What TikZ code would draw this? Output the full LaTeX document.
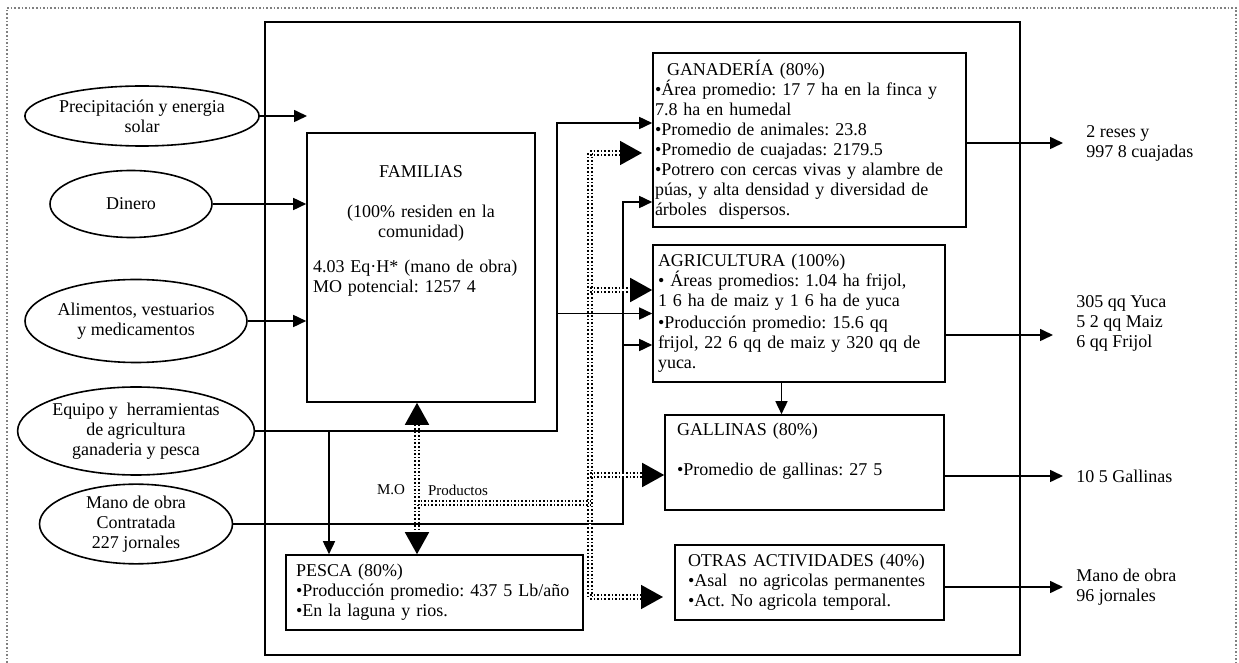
\documentclass[tikz,border=0pt]{standalone}
\usepackage{fontspec}
\setmainfont{Liberation Serif}
\frenchspacing
\usetikzlibrary{shapes.geometric}
\usetikzlibrary{arrows.meta}

\begin{document}
\begin{tikzpicture}[x=0.5pt,y=-0.5pt,
    font=\fontsize{9}{10}\selectfont,
    src/.style={draw,thick,ellipse,inner sep=0pt,align=center},
    box/.style={draw,thick,rectangle,align=left,inner ysep=1pt},
    tip/.style={thick,-{Triangle[length=6.5pt,width=6pt]}},
    prod/.style={densely dotted,double,double distance=1.1pt,line width=0.8pt},
    bigtip/.style={-{Triangle[length=11pt,width=12pt]}},
    bigtips/.style={{Triangle[length=11pt,width=12pt]}-{Triangle[length=11pt,width=12pt]}}]

    \useasboundingbox (0,0) rectangle (1239,663);
    \draw[gray,densely dotted,thick] (7,663) -- (7,8) -- (1236,8) -- (1236,663);
    \draw[thick] (265,22) rectangle (1020,655);

    %Entradas
    \node[src,minimum width=102.5pt,minimum height=30pt] (prec) at (142,116) {Precipitación y energia\\solar};
    \node[src,minimum width=81pt,minimum height=33.5pt] (din) at (131,204) {Dinero};
    \node[src,minimum width=96pt,minimum height=41.5pt] (ali) at (136,321) {Alimentos, vestuarios\\y medicamentos};
    \node[src,minimum width=107.5pt,minimum height=44pt] (equ) at (136,431) {Equipo y \ herramientas\\de agricultura\\ganaderia y pesca};
    \node[src,minimum width=96.5pt,minimum height=39.5pt] (mano) at (136,524) {Mano de obra\\Contratada\\227 jornales};

    %Sistema
    \node[box,inner xsep=3pt,text width=108pt,minimum width=114pt,minimum height=134.5pt] (fam) at (421,267.5)
        {\hspace*{\fill}FAMILIAS\hspace*{\fill}\mbox{}\\[10pt]
         \hspace*{\fill}(100\% residen en la\hspace*{\fill}\mbox{}\\
         \hspace*{\fill}comunidad)\hspace*{\fill}\mbox{}\\[7.5pt]
         4.03 Eq·H* (mano de obra)\\
         MO potencial: 1257 4\\[28pt]\mbox{}};
    \node[box,inner xsep=1pt,text width=154.5pt,minimum width=156.5pt,minimum height=87pt] (gan) at (809.5,140)
        {\hspace*{6pt}GANADERÍA (80\%)\\
         •Área promedio: 17 7 ha en la finca y\\
         7.8 ha en humedal\\
         •Promedio de animales: 23.8\\
         •Promedio de cuajadas: 2179.5\\
         •Potrero con cercas vivas y alambre de\\
         púas, y alta densidad y diversidad de\\
         árboles \ dispersos.};
    \node[box,inner xsep=2.5pt,text width=141pt,minimum width=146pt,minimum height=68.5pt] (agr) at (799,313.5)
        {AGRICULTURA (100\%)\\
         • Áreas promedios: 1.04 ha frijol,\\
         1 6 ha de maiz y 1 6 ha de yuca\\[1pt]
         •Producción promedio: 15.6 qq\\
         frijol, 22 6 qq de maiz y 320 qq de\\
         yuca.};
    \node[box,inner xsep=6pt,text width=127.5pt,minimum width=139.5pt,minimum height=47.5pt] (gal) at (804.5,462.5)
        {GALLINAS (80\%)\\[10pt]
         •Promedio de gallinas: 27 5\\[3pt]\mbox{}};
    \node[box,inner xsep=6.5pt,text width=121.5pt,minimum width=134.5pt,minimum height=37.5pt] (otr) at (809.5,582.5)
        {OTRAS ACTIVIDADES (40\%)\\
         •Asal \ no agricolas permanentes\\
         •Act. No agricola temporal.};
    \node[box,inner xsep=5pt,text width=138.5pt,minimum width=148.5pt,minimum height=37.5pt] (pes) at (434.5,592.5)
        {PESCA (80\%)\\
         •Producción promedio: 437 5 Lb/año\\
         •En la laguna y rios.};

    %Salidas
    \node[anchor=west,align=left,inner sep=0pt] (ores) at (1086,143) {2 reses y\\997 8 cuajadas};
    \node[anchor=west,align=left,inner sep=0pt] (oagr) at (1076,323) {305 qq Yuca\\5 2 qq Maiz\\6 qq Frijol};
    \node[anchor=west,align=left,inner sep=0pt] (ogal) at (1076,476) {10 5 Gallinas};
    \node[anchor=west,align=left,inner sep=0pt] (omo) at (1076,587) {Mano de obra\\96 jornales};

    \node[font=\fontsize{7.5}{9}\selectfont] (lmo) at (391,490) {M.O};
    \node[font=\fontsize{7.5}{9}\selectfont] (lprod) at (458,490) {Productos};

    %Flechas de entrada
    \coordinate (famin) at (307,0);
    \draw[tip] (prec.east) -- (prec.east -| famin);
    \draw[tip] (din.east) -- (din.east -| fam.west);
    \draw[tip] (ali.east) -- (ali.east -| fam.west);

    \coordinate (eqtop) at (557,123);
    \coordinate (eqagr) at (557,313.5);
    \coordinate (eqpes) at (329,431);
    \draw[tip] (equ.east) -| (eqtop) -- (eqtop -| gan.west);
    \draw[tip] (eqagr) -- (agr.west);
    \draw[tip] (eqpes) -- (eqpes |- pes.north);

    \coordinate (motop) at (623,202);
    \coordinate (moagr) at (623,345);
    \draw[tip] (mano.east) -| (motop) -- (motop -| gan.west);
    \draw[tip] (moagr) -- (moagr -| agr.west);

    %Productos y mano de obra
    \coordinate (ptop) at (590,153);
    \coordinate (pagr) at (590,290);
    \coordinate (pgal) at (590,475);
    \coordinate (pbot) at (590,597);
    \coordinate (pfam) at (417,503);
    \coordinate (pgan) at (642,153);
    \coordinate (potr) at (663,597);
    \coordinate (mo) at (417,0);
    \draw[prod] (ptop) -- (pbot);
    \draw[prod,bigtip] (ptop) -- (pgan);
    \draw[prod,bigtip] (pagr) -- (pagr -| agr.west);
    \draw[prod,bigtip] (pgal) -- (pgal -| gal.west);
    \draw[prod,bigtip] (pbot) -- (potr);
    \draw[prod] (pfam) -- (pfam -| ptop);
    \draw[prod,bigtips] (mo |- fam.south) -- (mo |- pes.north);

    %Flechas de salida
    \coordinate (ganout) at (1063,143);
    \coordinate (agrout) at (1053,335);
    \coordinate (galout) at (1063,476);
    \coordinate (otrout) at (1063,587);
    \draw[tip] (ganout -| gan.east) -- (ganout);
    \draw[tip] (agrout -| agr.east) -- (agrout);
    \draw[tip] (galout -| gal.east) -- (galout);
    \draw[tip] (otrout -| otr.east) -- (otrout);
    \draw[tip] (agr.south) ++(-17.5,0) coordinate (agrgal) -- (agrgal |- gal.north);

\end{tikzpicture}
\end{document}
